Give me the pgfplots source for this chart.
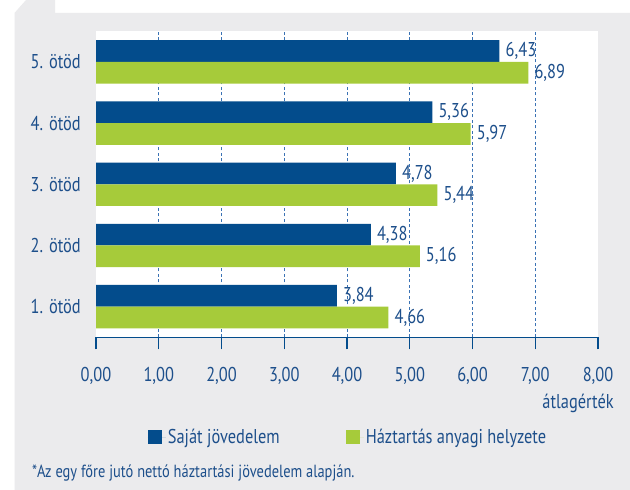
\documentclass[border=0pt]{standalone}
\usepackage{pgfplots}
\pgfplotsset{compat=1.18}
\usepackage{fontspec}
\setmainfont{PT Sans}[FakeStretch=0.82]
\definecolor{barblue}{HTML}{034C8C}
\definecolor{bargreen}{HTML}{A6CB3A}
\definecolor{txtblue}{HTML}{1D4F8B}
\definecolor{gridblue}{HTML}{3A72B4}
\definecolor{bg}{HTML}{EBEBED}
\begin{document}
\begin{tikzpicture}[x=1bp,y=1bp]
\fill[white] (0,0) rectangle (630,490);
\fill[bg] (14.5,0) -- (14.5,477) -- (26,490) -- (55,490) -- (55,477) -- (630,477) -- (630,0) -- cycle;
\begin{axis}[
  at={(96bp,152.7bp)}, anchor=south west,
  width=502bp, height=306bp, scale only axis,
  xmin=0, xmax=8, ymin=0.5, ymax=5.5,
  xbar, bar width=21.7bp,
  axis background/.style={fill=white},
  axis x line=bottom, axis y line=left,
  x axis line style={-, draw=barblue, line width=1.4bp},
  y axis line style={draw=none},
  xtick={0,1,...,8},
  x tick style={draw=barblue, line width=1.4bp},
  y tick style={draw=none},
  major tick length=12bp, tick align=outside,
  ytick={1,2,3,4,5},
  yticklabels={1. ötöd,2. ötöd,3. ötöd,4. ötöd,5. ötöd},
  y tick label style={inner sep=0pt, xshift=-3bp, anchor=east},
  x tick label style={yshift=-14bp},
  tick label style={font=\fontsize{20bp}{22bp}\selectfont, text=txtblue},
  /pgf/number format/assume math mode=true,
  /pgf/number format/use comma,
  /pgf/number format/fixed,
  /pgf/number format/fixed zerofill,
  /pgf/number format/precision=2,
  extra x ticks={1,2,3,4,5,6,7},
  extra x tick labels={},
  extra x tick style={grid=major, major tick length=0pt},
  major grid style={gridblue, line width=0.9bp, dash pattern=on 3bp off 2.5bp},
  nodes near coords,
  nodes near coords style={anchor=west, inner sep=1bp, xshift=5bp, font=\fontsize{20bp}{22bp}\selectfont, text=txtblue},
  legend style={at={(0.502,-0.327)}, anchor=center, draw=none, fill=none,
    legend columns=2, font=\fontsize{20bp}{22bp}\selectfont, text=txtblue,
    /tikz/every even column/.append style={column sep=64bp}},
]
\addplot[draw=none, fill=barblue, bar shift=10.85bp,
  legend image code/.code={\fill[barblue] (0bp,-7bp) rectangle (14bp,7bp); \path (0bp,0bp) -- (18bp,0bp);}]
  coordinates {(3.84,1) (4.38,2) (4.78,3) (5.36,4) (6.43,5)};
\addlegendentry{Saját jövedelem}
\addplot[draw=none, fill=bargreen, bar shift=-10.85bp,
  legend image code/.code={\fill[bargreen] (0bp,-7bp) rectangle (14bp,7bp); \path (0bp,0bp) -- (18bp,0bp);}]
  coordinates {(4.66,1) (5.16,2) (5.44,3) (5.97,4) (6.89,5)};
\addlegendentry{Háztartás anyagi helyzete}
\end{axis}
\node[anchor=east, inner sep=0pt, text=txtblue, font=\fontsize{20bp}{22bp}\selectfont] at (614,87) {átlagérték};
\node[anchor=west, inner sep=0pt, text=txtblue, font=\fontsize{17.6bp}{19bp}\selectfont] at (32,17) {*Az egy főre jutó nettó háztartási jövedelem alapján.};
\end{tikzpicture}
\end{document}
